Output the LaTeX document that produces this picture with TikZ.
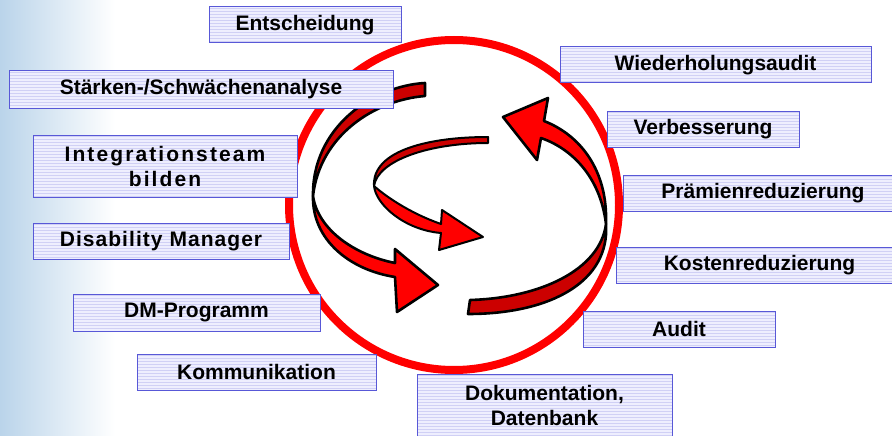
\documentclass[tikz,border=0pt]{standalone}
\usepackage{fontspec}
\setmainfont{Liberation Sans}
\definecolor{boxblue}{RGB}{88,88,215}
\definecolor{boxfill}{RGB}{238,238,254}
\definecolor{stripe}{RGB}{208,208,245}
\definecolor{ringred}{RGB}{255,0,0}
\definecolor{brightred}{RGB}{255,0,0}
\definecolor{darkred}{RGB}{204,0,0}
\definecolor{bgblue}{RGB}{186,212,234}
\begin{document}
\begin{tikzpicture}[x=1pt,y=-1pt,
  box/.style={draw=boxblue, line width=1pt, fill=boxfill, inner sep=0pt,
    align=center, text=black, font=\fontsize{21}{25}\selectfont\bfseries,
    path picture={\foreach \k in {0,...,22}
      \draw[stripe, line width=1.1pt]
        ([yshift=-\k*3pt-1.5pt]path picture bounding box.north west) --
        ([yshift=-\k*3pt-1.5pt]path picture bounding box.north east);}},
  wide/.style={font=\fontsize{21}{25}\selectfont\bfseries\addfontfeature{LetterSpace=#1}},
  ribbon/.style={draw=black, line width=2.6pt, line join=round},
  thinribbon/.style={draw=black, line width=2pt, line join=round}]

\useasboundingbox (0,0) rectangle (892,436);

% soft blue strip on the left edge
\shade[left color=bgblue, right color=white] (0,0) rectangle (115,436);

% red ring
\draw[ringred, line width=8pt] (454,205) circle [radius=165];

% large arrow on the left (top half shows its back side)
\fill[darkred, ribbon] (425,83) .. controls (372,86) and (312,128) .. (313,196)
  .. controls (320,135) and (375,100) .. (425,96) -- cycle;
\fill[brightred, ribbon] (313,196) .. controls (312,240) and (350,270) .. (395,277)
  -- (397,312) -- (438,285) -- (395,249) -- (395,263)
  .. controls (355,255) and (318,230) .. (313,196) -- cycle;

% large arrow on the right
\fill[darkred, ribbon] (606,224) .. controls (600,270) and (540,298) .. (470,300)
  -- (468,314) .. controls (550,314) and (610,282) .. (606,224) -- cycle;
\fill[brightred, ribbon] (606,224) .. controls (608,170) and (580,135) .. (544,121)
  -- (548,98) -- (503,117) -- (537,160) -- (541,138)
  .. controls (570,148) and (600,175) .. (606,224) -- cycle;

% small inner arrow
\fill[darkred, thinribbon] (488,137) .. controls (430,137) and (372,150) .. (374,186)
  .. controls (378,160) and (430,143) .. (488,143) -- cycle;
\fill[brightred, thinribbon] (374,186) .. controls (376,205) and (405,230) .. (441,233)
  -- (439,250) -- (483,237) -- (442,210) -- (441,224)
  .. controls (415,215) and (390,200) .. (374,186) -- cycle;

% labels
\node[box, minimum width=192pt, minimum height=36pt] (ent) at (305,25) {Entscheidung};
\node[box, minimum width=384pt, minimum height=37pt] (sta) at (201,89.5) {Stärken-/Schwächenanalyse};
\node[box, wide=10, minimum width=264pt, minimum height=62pt] (int) at (165,166) {Integrationsteam\\bilden};
\node[box, wide=5, minimum width=256pt, minimum height=36pt] (dis) at (161,241) {Disability Manager};
\node[box, minimum width=247pt, minimum height=37pt] (dmp) at (196.5,312.5) {DM-Programm};
\node[box, minimum width=239pt, minimum height=36pt] (kom) at (256.5,372) {Kommunikation};
\node[box, minimum width=255pt, minimum height=62pt] (dok) at (544.5,405) {Dokumentation,\\Datenbank};
\node[box, minimum width=192pt, minimum height=36pt] (aud) at (679,329) {Audit};
\node[box, minimum width=287pt, minimum height=36pt] (kos) at (759.5,265) {Kostenreduzierung};
\node[box, minimum width=280pt, minimum height=36pt] (pra) at (763,193) {Prämienreduzierung};
\node[box, minimum width=192pt, minimum height=36pt] (ver) at (703,129) {Verbesserung};
\node[box, minimum width=311pt, minimum height=36pt] (wie) at (715.5,65) {Wiederholungsaudit};
\end{tikzpicture}
\end{document}
